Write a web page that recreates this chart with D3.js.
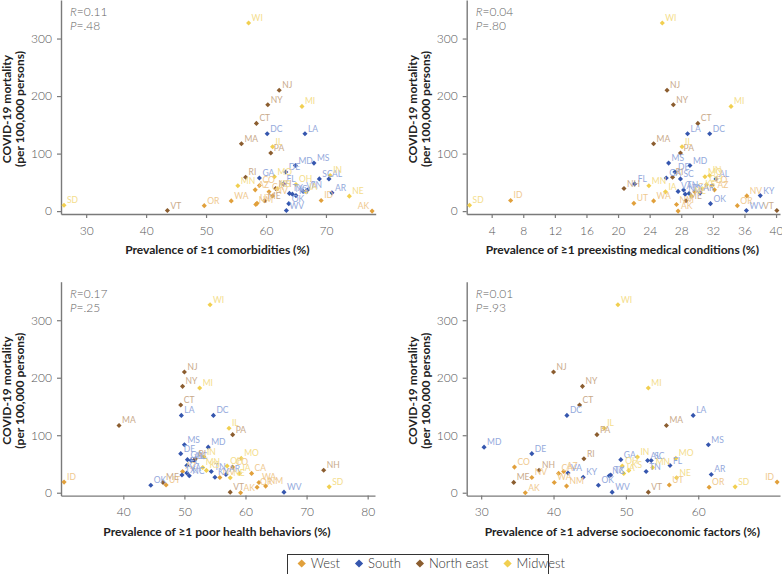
<!DOCTYPE html>
<html><head><meta charset="utf-8">
<script src="https://cdn.jsdelivr.net/npm/d3@7"></script>
<style>body{margin:0;background:#fff} svg{display:block}</style>
</head><body>
<svg id="c" width="782" height="574"></svg>
<script>
// ---- data ----
const states = ["AK","AZ","CA","CO","ID","NM","NV","OR","UT","WA",
  "AL","AR","DC","DE","FL","GA","KY","LA","MD","MS","NC","OK","SC","TN","TX","VA","WV",
  "CT","MA","ME","NH","NJ","NY","PA","RI","VT",
  "IA","IL","IN","KS","MI","MN","MO","NE","OH","SD","WI"];
const regions = ["West","West","West","West","West","West","West","West","West","West",
  "South","South","South","South","South","South","South","South","South","South","South","South","South","South","South","South","South",
  "North east","North east","North east","North east","North east","North east","North east","North east","North east",
  "Midwest","Midwest","Midwest","Midwest","Midwest","Midwest","Midwest","Midwest","Midwest","Midwest","Midwest"];
const mortality = [0,37,33.6,44.6,18.5,11.5,26.5,9.5,13.5,17.8,
  56,31.8,134.5,68,47.3,57.5,27,134.5,79.3,83.5,29.5,13,56,36.8,30.8,34.3,1,
  152.5,117,18,39.2,210,185,101,59,1,
  33.5,112,62,38.8,182,44,59.7,26,46.4,10.2,327];
const comorbidities = [77.7,58.2,60.5,58.9,69.2,58.3,61.1,49.7,58.5,54.2,
  70.5,71.0,60.2,63.3,62.9,58.9,65.0,66.5,64.9,68.0,64.4,63.8,68.9,66.9,63.9,66.2,63.4,
  58.4,55.9,59.8,61.6,62.2,60.3,60.8,56.6,43.55,
  66.7,61.1,70.7,61.9,66.0,55.3,61.4,73.9,65.0,26.3,57.1];
const preexisting = [27.6,32.2,29.7,31.9,6.4,27.4,36.3,35.1,22.0,24.5,
  32.4,30.4,31.6,27.2,22.1,26.1,38.0,28.8,29.1,26.4,28.5,31.7,27.9,28.3,29.0,27.6,36.25,
  30.1,24.5,28.6,20.75,26.2,27.0,27.9,26.9,40.1,
  26.0,28.1,31.6,30.65,34.3,23.9,31.0,29.3,31.2,1.2,25.6];
const healthBehaviors = [59.2,49.7,61.0,57.9,30.3,63.3,55.8,61.9,47.0,62.2,
  51.1,56.8,54.75,49.4,50.4,50.5,55.0,49.5,53.9,50.0,50.8,44.5,51.6,54.4,49.6,50.4,66.3,
  49.4,39.3,46.5,72.8,50.0,49.7,57.9,51.8,57.5,
  59.0,57.3,53.2,53.6,52.5,53.0,59.3,57.5,57.0,73.7,54.2];
const socioeconomic = [36.1,41.4,40.7,34.6,70.9,41.8,37.0,61.5,56.0,40.1,
  53.0,61.8,41.85,37.0,56.1,49.3,44.1,59.3,30.4,61.4,47.7,46.2,53.5,52.8,47.9,42.0,48.1,
  43.6,55.6,34.5,38.0,40.0,44.0,46.0,44.2,53.1,
  49.7,47.0,51.6,50.4,53.1,53.7,56.9,57.0,49.5,65.1,48.9];
const regionNames = ["West","South","North east","Midwest"];
const yTicks = [0,100,200,300];
const xTicks1 = [30,40,50,60,70];
const xTicks2 = [4,8,12,16,20,24,28,32,36,40];
const xTicks3 = [40,50,60,70,80];
const xTicks4 = [30,40,50,60];
const rValues = ["0.11","0.04","0.17","0.01"];
const pValues = [".48",".80",".25",".93"];
const xTitles = ["Prevalence of \u22651 comorbidities (%)",
  "Prevalence of \u22651 preexisting medical conditions (%)",
  "Prevalence of \u22651 poor health behaviors (%)",
  "Prevalence of \u22651 adverse socioeconomic factors (%)"];
const yTitle1 = "COVID-19 mortality", yTitle2 = "(per 100,000 persons)";

// ---- styles ----
const markColor = d3.scaleOrdinal().domain(regionNames).range(["#E1A03B","#3556AE","#8B5D2F","#F1CF50"]);
const labelColor = d3.scaleOrdinal().domain(regionNames).range(["#EFC98F","#94A9DC","#C9AA8B","#F4DD8B"]);
const FONT = "Lato, 'Open Sans', sans-serif";

const rows = states.map((s,i)=>({s, r: regions[i], m: mortality[i],
  v:[comorbidities[i], preexisting[i], healthBehaviors[i], socioeconomic[i]]}));

const panels = [
  {xd:[25.8,78.3], xr:[61,375.7], yr:[214,0], ticks:xTicks1},
  {xd:[0.84,40.5], xr:[466.7,780], yr:[214,0], ticks:xTicks2},
  {xd:[29.8,81.2], xr:[61,375], yr:[495.6,281.7], ticks:xTicks3},
  {xd:[28.0,71.3], xr:[466.7,780], yr:[495.6,281.7], ticks:xTicks4}
];
const svg = d3.select("#c").attr("font-family", FONT);
const diamond = d3.symbol().type(d3.symbolSquare).size(13);

panels.forEach((p,k)=>{
  const x = d3.scaleLinear().domain(p.xd).range(p.xr);
  const y = d3.scaleLinear().domain([-5,367]).range(p.yr);
  const g = svg.append("g");
  const xa = g.append("g").attr("transform",`translate(0,${p.yr[0]})`)
    .call(d3.axisBottom(x).tickValues(p.ticks).tickSize(4).tickPadding(8).tickSizeOuter(0));
  const ya = g.append("g").attr("transform",`translate(${p.xr[0]},0)`)
    .call(d3.axisLeft(y).tickValues(yTicks).tickSize(4).tickPadding(5).tickSizeOuter(0));
  [xa,ya].forEach(a=>{
    a.select(".domain").attr("stroke","#7a7a7a").attr("stroke-width",1.4);
    a.selectAll(".tick line").attr("stroke","#7a7a7a").attr("stroke-width",1.2);
    a.selectAll(".tick text").attr("fill","#555").attr("font-size",12).attr("font-weight",300).attr("font-family",FONT);
  });
  // titles
  const cx = (p.xr[0]+p.xr[1])/2 - 1;
  g.append("text").attr("x",cx).attr("y",p.yr[0]+40).attr("text-anchor","middle")
    .attr("font-size",12).attr("font-weight",700).attr("fill","#222").text(xTitles[k]);
  const cy = (p.yr[0]+p.yr[1])/2 + 2;
  const tx = p.xr[0]-61;
  g.append("text").attr("transform",`translate(${tx+11},${cy}) rotate(-90)`).attr("text-anchor","middle")
    .attr("font-size",12).attr("font-weight",700).attr("fill","#222").text(yTitle1);
  g.append("text").attr("transform",`translate(${tx+24},${cy}) rotate(-90)`).attr("text-anchor","middle")
    .attr("font-size",12).attr("font-weight",700).attr("fill","#222").text(yTitle2);
  // stats
  const st = g.append("g").attr("fill","#666").attr("font-size",12).attr("font-weight",300);
  const t1 = st.append("text").attr("x",p.xr[0]+9).attr("y",p.yr[1]+16);
  t1.append("tspan").attr("font-style","italic").text("R");
  t1.append("tspan").text("="+rValues[k]);
  const t2 = st.append("text").attr("x",p.xr[0]+9).attr("y",p.yr[1]+30);
  t2.append("tspan").attr("font-style","italic").text("P");
  t2.append("tspan").text("="+pValues[k]);
  // marks
  g.append("g").selectAll("path").data(rows).join("path")
    .attr("d",diamond)
    .attr("transform",d=>`translate(${x(d.v[k])},${y(d.m)}) rotate(45)`)
    .attr("fill",d=>markColor(d.r));
  g.append("g").selectAll("text").data(rows).join("text")
    .attr("x",d=>x(d.v[k])+3).attr("y",d=>y(d.m)-2)
    .attr("font-size",8.5).attr("fill",d=>labelColor(d.r)).text(d=>d.s)
    .each(function(d){
      const w = this.getComputedTextLength();
      if (x(d.v[k])+3+w > p.xr[1]) d3.select(this).attr("text-anchor","end").attr("x",x(d.v[k])-3);
    });
});

// legend
const lg = svg.append("g");
lg.append("rect").attr("x",287.5).attr("y",554.5).attr("width",261).attr("height",30)
  .attr("fill","none").attr("stroke","#333").attr("stroke-width",1);
let cur = 301.7;
regionNames.forEach(n=>{
  const it = lg.append("g").attr("transform",`translate(${cur},563.5)`);
  it.append("path").attr("d",d3.symbol().type(d3.symbolSquare).size(34)).attr("transform","rotate(45)")
    .attr("fill",markColor(n));
  const t = it.append("text").attr("x",9).attr("y",4.5).attr("font-size",13).attr("font-weight",300)
    .attr("fill","#333").text(n);
  cur += 9 + t.node().getComputedTextLength() + 19;
});
</script>
</body></html>
